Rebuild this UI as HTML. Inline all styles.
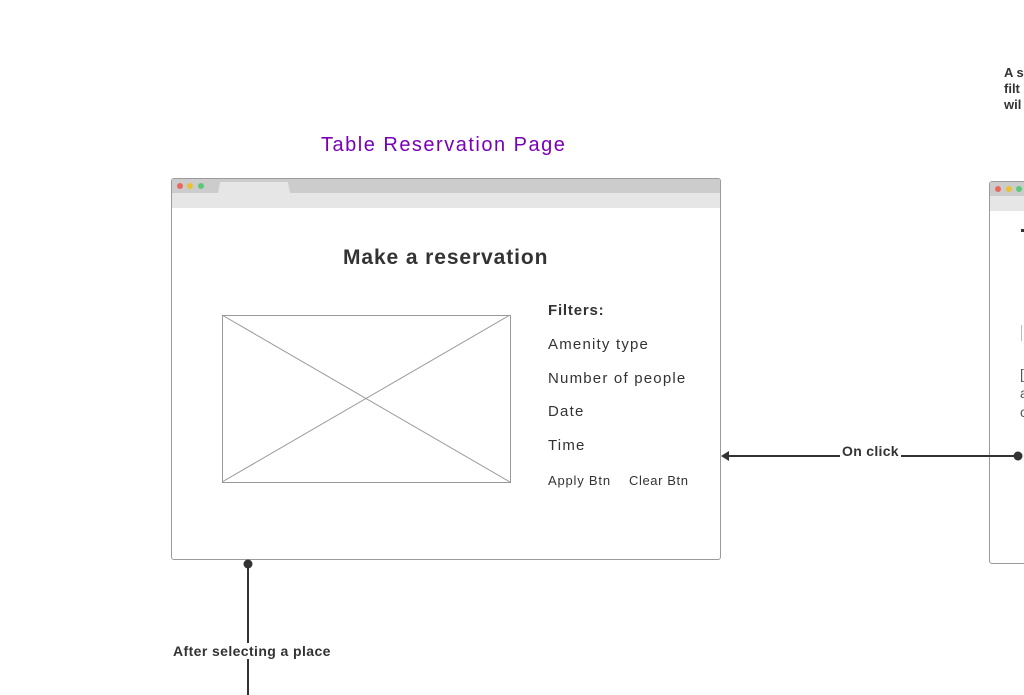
<!DOCTYPE html>
<html><head><meta charset="utf-8"><style>
body{margin:0;width:1024px;height:695px;background:#fff;position:relative;overflow:hidden;font-family:"Liberation Sans",sans-serif;color:#333}
.a{position:absolute;white-space:nowrap}
.win{position:absolute;border:1px solid #9a9a9a;border-radius:3px;background:#fff;overflow:hidden;box-sizing:border-box}
.tb{position:absolute;left:0;right:0;top:0;height:14px;background:#cccccc}
.sb{position:absolute;left:0;right:0;top:14px;height:15px;background:#e6e6e6}
.d{position:absolute;top:4px;width:6px;height:6px;border-radius:50%}
.f{font-size:15px;color:#333;letter-spacing:1.2px}
</style></head><body>
<div class="a" style="left:321px;top:134px;font-size:20px;color:#7a00b8;letter-spacing:1.5px">Table Reservation Page</div>
<div class="a" style="left:1004px;top:65px;font-size:13px;font-weight:bold;line-height:16px">A s<br>filt<br>wil</div>

<div class="win" style="left:171px;top:178px;width:550px;height:382px">
<div class="tb"></div><div class="sb"></div>
<div class="d" style="left:5px;background:#e8685f"></div>
<div class="d" style="left:15px;background:#e9c233"></div>
<div class="d" style="left:26px;background:#5bc979"></div>
<div style="position:absolute;left:46px;top:3px;width:72px;height:11px;background:#e6e6e6;clip-path:polygon(3% 0,97% 0,100% 100%,0 100%)"></div>
</div>
<div class="a" style="left:343px;top:246px;font-size:21px;font-weight:bold;color:#333;letter-spacing:0.9px">Make a reservation</div>

<div class="win" style="left:989px;top:181px;width:60px;height:383px">
<div class="tb"></div><div class="sb"></div>
<div class="d" style="left:5px;background:#e8685f"></div>
<div class="d" style="left:16px;background:#e9c233"></div>
<div class="d" style="left:26px;background:#5bc979"></div>
</div>
<div class="a" style="left:1021px;top:229px;width:3px;height:3px;background:#333"></div>
<div class="a" style="left:1021px;top:325px;width:1px;height:16px;background:#bbb"></div>
<div class="a" style="left:1020px;top:365px;font-size:14px;line-height:19px;color:#555">[<br>a<br>c</div>

<svg class="a" style="left:0;top:0" width="1024" height="695">
<rect x="222.5" y="315.5" width="288" height="167" fill="none" stroke="#999"/>
<line x1="222" y1="315" x2="510" y2="482" stroke="#999"/>
<line x1="510" y1="315" x2="222" y2="482" stroke="#999"/>
<line x1="728" y1="456" x2="1018" y2="456" stroke="#333" stroke-width="2"/>
<polygon points="721,456 729,451 729,461" fill="#333"/>
<circle cx="1018" cy="456" r="4.5" fill="#333"/>
<line x1="248" y1="563" x2="248" y2="695" stroke="#333" stroke-width="2"/>
<circle cx="248" cy="564" r="4.5" fill="#333"/>
</svg>
<div class="a f" style="left:548px;top:302px;font-weight:bold;letter-spacing:0.8px">Filters:</div>
<div class="a f" style="left:548px;top:336px">Amenity type</div>
<div class="a f" style="left:548px;top:370px">Number of people</div>
<div class="a f" style="left:548px;top:403px">Date</div>
<div class="a f" style="left:548px;top:437px">Time</div>
<div class="a" style="left:548px;top:473px;font-size:13px;letter-spacing:0.8px">Apply Btn</div>
<div class="a" style="left:629px;top:473px;font-size:13px;letter-spacing:0.6px">Clear Btn</div>

<div class="a" style="left:840px;top:443px;font-size:14px;font-weight:bold;background:#fff;padding:0 2px;letter-spacing:0.3px">On click</div>
<div class="a" style="left:172px;top:643px;font-size:14px;font-weight:bold;background:#fff;padding:0 1px;letter-spacing:0.4px">After selecting a place</div>
</body></html>
